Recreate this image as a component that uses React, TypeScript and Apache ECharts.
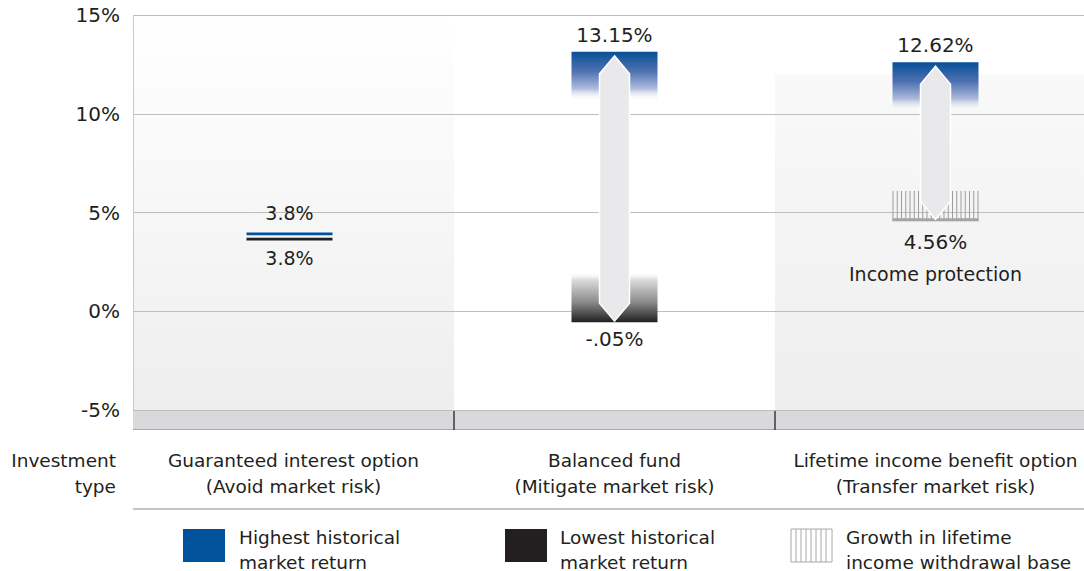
import React, { useEffect, useRef } from "react";
import * as echarts from "echarts";

// ---- data ----
const categories = [
  "Guaranteed interest option\n(Avoid market risk)",
  "Balanced fund\n(Mitigate market risk)",
  "Lifetime income benefit option\n(Transfer market risk)",
];
const returnShape = ["flat", "range", "protected"];
const highestReturn = [3.8, 13.15, 12.62];
const lowestReturn = [3.8, -0.55, null];
const incomeFloor = [null, null, 4.56];
const withdrawalBaseTop = [null, null, 6.1];
const highLabels = ["3.8%", "13.15%", "12.62%"];
const lowLabels = ["3.8%", "-.05%", "4.56%"];
const floorNote = [null, null, "Income protection"];
const yMin = -5;
const yMax = 15;
const yStep = 5;
const legendItems = [
  "Highest historical\nmarket return",
  "Lowest historical\nmarket return",
  "Growth in lifetime\nincome withdrawal base",
];

const FONT = '"DejaVu Sans", sans-serif';
const TXT = "#231f20";
const BLUE = "#00529b";
const DARK = "#231f20";

export default function App() {
  const ref = useRef<HTMLDivElement>(null);
  useEffect(() => {
    document.body.style.margin = "0";
    document.body.style.overflow = "hidden";
    document.documentElement.style.overflow = "hidden";
    const chart = echarts.init(ref.current!, null, { renderer: "svg" });

    const highGrad = () =>
      new echarts.graphic.LinearGradient(0, 0, 0, 1, [
        { offset: 0, color: "#084f98" },
        { offset: 0.4, color: "#4f72b0" },
        { offset: 0.75, color: "#aebbdd" },
        { offset: 1, color: "rgba(255,255,255,0)" },
      ]);
    const lowGrad = () =>
      new echarts.graphic.LinearGradient(0, 0, 0, 1, [
        { offset: 0, color: "rgba(255,255,255,0)" },
        { offset: 0.15, color: "#dcdcdc" },
        { offset: 0.6, color: "#8a8a8a" },
        { offset: 1, color: DARK },
      ]);

    const arrow = (cx: number, t: number, b: number) => ({
      type: "polygon",
      shape: {
        points: [
          [cx, t],
          [cx + 15, t + 18],
          [cx + 15, b - 18],
          [cx, b],
          [cx - 15, b - 18],
          [cx - 15, t + 18],
        ],
      },
      style: { fill: "#e9e9ec", stroke: "#ffffff", lineWidth: 1.5 },
    });

    const label = (text: string, x: number, y: number, size = 20) => ({
      type: "text",
      style: {
        text,
        x,
        y,
        align: "center",
        verticalAlign: "middle",
        font: `${size}px ${FONT}`,
        fill: TXT,
      },
    });

    const option: any = {
      animation: false,
      grid: { left: 133, top: 15.3, width: 963, bottom: 161, containLabel: false },
      xAxis: {
        type: "category",
        data: categories,
        axisLine: { show: false },
        axisTick: { show: false },
        axisLabel: {
          margin: 37,
          fontSize: 18.5,
          lineHeight: 26,
          color: TXT,
          fontFamily: FONT,
          interval: 0,
        },
      },
      yAxis: {
        type: "value",
        min: yMin,
        max: yMax,
        interval: yStep,
        axisLine: { show: true, lineStyle: { color: "#c8c8c8", width: 1 } },
        axisTick: { show: false },
        splitLine: { lineStyle: { color: "#bdbdbd", width: 1 } },
        axisLabel: {
          formatter: "{value}%",
          fontSize: 20,
          color: TXT,
          fontFamily: FONT,
          margin: 13,
          padding: [8, 0, 0, 0],
        },
      },
      series: [
        {
          type: "custom",
          z: -5,
          clip: false,
          data: categories.map((_, i) => [i, yMax]),
          renderItem: (params: any, api: any) => {
            const i = params.dataIndex;
            const w = api.size([1, 0])[0];
            const cx = api.coord([i, 0])[0];
            const x0 = cx - w / 2;
            const yBottom = api.coord([i, yMin])[1];
            const children: any[] = [];
            const shadeFrom = i === 0 ? yMax : i === 2 ? 12 : null;
            if (shadeFrom !== null) {
              const yTop = api.coord([i, shadeFrom])[1];
              children.push({
                type: "rect",
                shape: { x: x0, y: yTop, width: w, height: yBottom - yTop },
                style: {
                  fill: new echarts.graphic.LinearGradient(0, 0, 0, 1, [
                    { offset: 0, color: i === 0 ? "#ffffff" : "#f9f9f9" },
                    { offset: 1, color: "#eeeeee" },
                  ]),
                },
              });
            }
            children.push({
              type: "rect",
              shape: { x: x0, y: yBottom, width: w, height: 19 },
              style: { fill: "#d9d9db" },
            });
            children.push({
              type: "line",
              shape: { x1: x0, y1: yBottom + 19.5, x2: x0 + w, y2: yBottom + 19.5 },
              style: { stroke: "#a8a8a8", lineWidth: 1 },
            });
            if (i > 0) {
              children.push({
                type: "line",
                shape: { x1: x0, y1: yBottom, x2: x0, y2: yBottom + 20 },
                style: { stroke: "#3a3a3a", lineWidth: 1.5 },
              });
            }
            return { type: "group", children };
          },
        },
        {
          type: "custom",
          z: 5,
          clip: false,
          data: categories.map((_, i) => [i, highestReturn[i]]),
          renderItem: (params: any, api: any) => {
            const i = params.dataIndex;
            const cx = api.coord([i, 0])[0];
            const half = 43;
            const yHigh = api.coord([i, highestReturn[i]])[1];
            const children: any[] = [];
            const shape = returnShape[i];
            if (shape === "flat") {
              children.push({
                type: "rect",
                shape: { x: cx - half - 4, y: yHigh - 3.8, width: half * 2, height: 2.7 },
                style: { fill: BLUE },
              });
              const yLow = api.coord([i, lowestReturn[i] as number])[1];
              children.push({
                type: "rect",
                shape: { x: cx - half - 4, y: yLow + 1.5, width: half * 2, height: 2.7 },
                style: { fill: DARK },
              });
              children.push(label(highLabels[i], cx - 4, yHigh - 23, 19));
              children.push(label(lowLabels[i], cx - 4, yLow + 22, 19));
            } else {
              children.push({
                type: "rect",
                shape: { x: cx - half, y: yHigh, width: half * 2, height: 49 },
                style: { fill: highGrad() },
              });
              children.push(label(highLabels[i], cx, yHigh - 17, 20));
              if (shape === "range") {
                const yLow = api.coord([i, lowestReturn[i] as number])[1];
                children.push({
                  type: "rect",
                  shape: { x: cx - half, y: yLow - 50, width: half * 2, height: 50 },
                  style: { fill: lowGrad() },
                });
                children.push(arrow(cx, yHigh + 4, yLow - 1));
                children.push(label(lowLabels[i], cx, yLow + 17, 20));
              } else {
                const yFloor = api.coord([i, incomeFloor[i] as number])[1];
                const yTop = api.coord([i, withdrawalBaseTop[i] as number])[1];
                const n = 21;
                for (let k = 0; k < n; k++) {
                  const x = cx - half + 0.5 + (k * (half * 2 - 1)) / (n - 1);
                  children.push({
                    type: "line",
                    shape: { x1: x, y1: yTop, x2: x, y2: yFloor },
                    style: { stroke: "#9d9d9d", lineWidth: 1 },
                  });
                }
                children.push({
                  type: "rect",
                  shape: { x: cx - half, y: yFloor - 3, width: half * 2, height: 3 },
                  style: { fill: "#a5a5a5" },
                });
                children.push(arrow(cx, yHigh + 4, yFloor - 2));
                children.push(label(lowLabels[i], cx, yFloor + 21, 20));
                children.push(label(floorNote[i] as string, cx, yFloor + 53, 19));
              }
            }
            return { type: "group", children };
          },
        },
      ],
      graphic: [
        {
          type: "text",
          style: {
            text: "Investment\ntype",
            x: 116,
            y: 447,
            align: "right",
            verticalAlign: "top",
            font: `18.5px ${FONT}`,
            lineHeight: 26,
            fill: TXT,
          },
        },
        {
          type: "line",
          shape: { x1: 133, y1: 509, x2: 1096, y2: 509 },
          style: { stroke: "#b0b0b0", lineWidth: 1.5 },
        },
        { type: "rect", shape: { x: 183, y: 529, width: 42, height: 33 }, style: { fill: BLUE } },
        { type: "rect", shape: { x: 505, y: 529, width: 42, height: 33 }, style: { fill: DARK } },
        {
          type: "group",
          children: [
            {
              type: "rect",
              shape: { x: 791, y: 529, width: 41, height: 33 },
              style: { fill: "#ffffff", stroke: "#a8a8a8", lineWidth: 1 },
            },
            ...[0, 1, 2, 3, 4, 5, 6].map((k) => ({
              type: "line",
              shape: { x1: 796 + k * 5, y1: 529, x2: 796 + k * 5, y2: 562 },
              style: { stroke: "#a8a8a8", lineWidth: 1 },
            })),
          ],
        },
        ...legendItems.map((t, k) => ({
          type: "text",
          style: {
            text: t,
            x: [239, 560, 846][k],
            y: 524.5,
            align: "left",
            verticalAlign: "top",
            font: `18.5px ${FONT}`,
            lineHeight: 25,
            fill: TXT,
          },
        })),
      ],
    };
    chart.setOption(option);
    return () => chart.dispose();
  }, []);
  return <div ref={ref} style={{ width: 1096, height: 571 }} />;
}
